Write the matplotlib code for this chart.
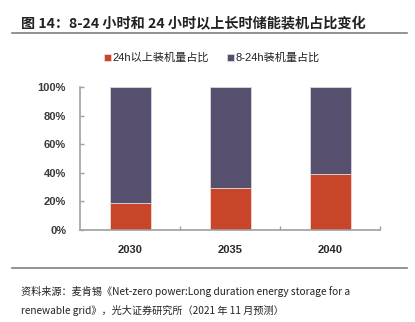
import matplotlib
matplotlib.use("Agg")
import matplotlib.pyplot as plt
from matplotlib.lines import Line2D
from matplotlib.ticker import FixedLocator, PercentFormatter

plt.rcParams['font.family'] = ['Noto Sans CJK SC', 'DejaVu Sans']

# Data
years = ["2030", "2035", "2040"]
share_24h_plus = [0.19, 0.29, 0.39]          # 24h以上装机量占比
share_8_24h = [1 - v for v in share_24h_plus]  # 8-24h装机量占比
series_names = ["24h以上装机量占比", "8-24h装机量占比"]
colors = ["#C8452A", "#56506E"]

title = "图 14：8-24 小时和 24 小时以上长时储能装机占比变化"
source_lines = [
    "资料来源：麦肯锡《Net-zero power:Long duration energy storage for a",
    "renewable grid》，光大证券研究所（2021 年 11 月预测）",
]

W, H = 415, 322
fig = plt.figure(figsize=(W / 100, H / 100), dpi=100)

ax = fig.add_axes([80 / W, 1 - 229.7 / H, 300 / W, 142.7 / H])
x = list(range(len(years)))
ax.bar(x, share_24h_plus, width=0.41, color=colors[0], label=series_names[0],
       edgecolor="#f3d6cf", linewidth=0.6)
ax.bar(x, share_8_24h, width=0.41, bottom=share_24h_plus, color=colors[1],
       label=series_names[1], edgecolor="#d8d6e0", linewidth=0.6)

ax.set_xlim(-0.5, 2.5)
ax.set_ylim(0, 1)
ax.set_yticks([0, 0.2, 0.4, 0.6, 0.8, 1.0])
ax.yaxis.set_major_formatter(PercentFormatter(1.0, decimals=0))
ax.set_xticks(x)
ax.set_xticklabels(years)
ax.xaxis.set_minor_locator(FixedLocator([0.5, 1.5, 2.5]))

for s in ["top", "right"]:
    ax.spines[s].set_visible(False)
for s in ["left", "bottom"]:
    ax.spines[s].set_color("#a0a0a0")
    ax.spines[s].set_linewidth(1.2)

ax.tick_params(axis="y", direction="in", length=3, width=1, color="#a0a0a0",
               pad=10, labelcolor="#3a3a3a")
ax.tick_params(axis="x", which="major", length=0, pad=11, labelcolor="#2a2a2a")
ax.tick_params(axis="x", which="minor", direction="in", length=3, width=1,
               color="#a0a0a0")
for lab in ax.get_yticklabels() + ax.get_xticklabels():
    lab.set_fontfamily(["Liberation Sans", "DejaVu Sans"])
    lab.set_fontsize(8)
    lab.set_fontweight("bold")

leg = ax.legend(loc="center", bbox_to_anchor=(212 / W, 1 - 58 / H),
                bbox_transform=fig.transFigure, ncol=2, frameon=False,
                prop=dict(family=["Liberation Sans", "Noto Sans CJK SC"], size=8),
                handlelength=0.6, handleheight=0.6,
                handletextpad=0.15, columnspacing=1.6)
for t in leg.get_texts():
    t.set_color("#222222")

# Title and rules
fig.text(21 / W, 1 - 23 / H, title, fontsize=10.2, fontweight="bold",
         color="#222222", va="center", ha="left")
fig.add_artist(Line2D([12 / W, 407 / W], [1 - 33 / H, 1 - 33 / H],
                      color="#808080", linewidth=1.2))
fig.add_artist(Line2D([12 / W, 407 / W], [1 - 268 / H, 1 - 268 / H],
                      color="#808080", linewidth=1.2))

# Source note
for i, line in enumerate(source_lines):
    fig.text(21 / W, 1 - (291 + 19 * i) / H, line, fontsize=7.3,
             color="#222222", va="center", ha="left")

fig.savefig("out.png", dpi=100)
